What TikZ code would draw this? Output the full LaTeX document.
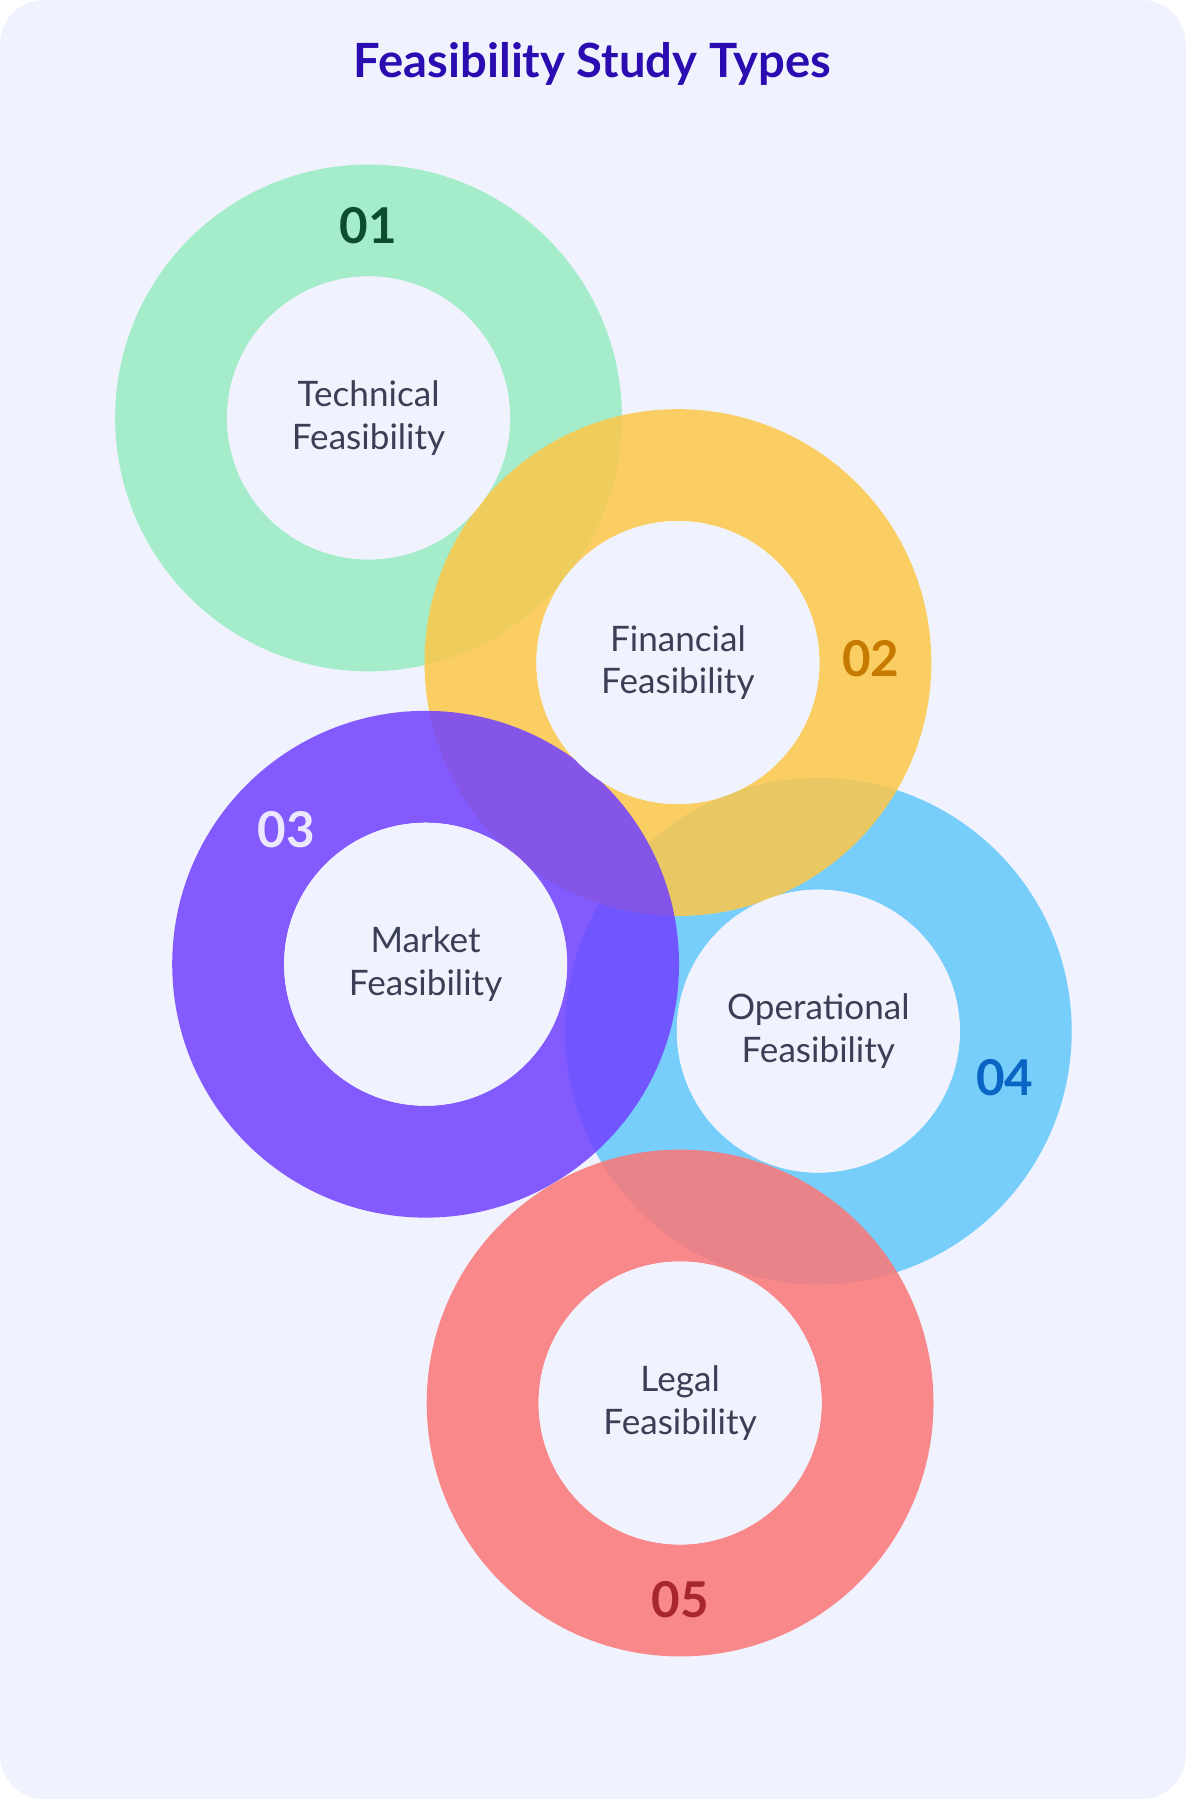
\documentclass[tikz,border=0pt]{standalone}
\usepackage{fontspec}
\setmainfont{Lato}
\definecolor{bgcol}{HTML}{F0F3FD}
\definecolor{titlecol}{HTML}{2A0CB0}
\definecolor{labelcol}{HTML}{3A3F55}
\definecolor{ringA}{HTML}{98EBC3}
\definecolor{ringB}{HTML}{FDC84A}
\definecolor{ringC}{HTML}{7040FF}
\definecolor{ringD}{HTML}{62C8FB}
\definecolor{ringE}{HTML}{FB7676}
\definecolor{numA}{HTML}{0B4D2E}
\definecolor{numB}{HTML}{C77A00}
\definecolor{numC}{HTML}{ECE8FF}
\definecolor{numD}{HTML}{0A64C4}
\definecolor{numE}{HTML}{A8262E}
\tikzset{every picture/.style={line width=0.75pt}}
\tikzset{
  ring/.style={fill=#1,fill opacity=0.85,draw=none,even odd rule},
  hole/.style={circle,fill=bgcol,draw=none,minimum size=258pt,inner sep=0pt,align=center,text=labelcol,font=\fontsize{32}{39}\selectfont},
  num/.style={text=#1,font=\fontsize{45}{50}\selectfont\bfseries}
}

\begin{document}
\begin{tikzpicture}[x=1pt,y=1pt,yscale=-1]
%background
\fill[bgcol,rounded corners=40pt] (0,0) rectangle (1081,1640);
\useasboundingbox (0,0) rectangle (1081,1568);

% Text Node
\node[text=titlecol,font=\fontsize{43}{50}\selectfont\bfseries] (title) at (540,58) {Feasibility Study Types};

%Rings
\fill[ring=ringD] (746,940) circle (231) (746,940) circle (129);
\fill[ring=ringA] (336,381) circle (231) (336,381) circle (129);
\fill[ring=ringB] (618,604) circle (231) (618,604) circle (129);
\fill[ring=ringC] (388,879) circle (231) (388,879) circle (129);
\fill[ring=ringE] (620,1279) circle (231) (620,1279) circle (129);

%Holes
\node[hole] (technical) at (336,381) {Technical\\Feasibility};
\node[hole] (financial) at (618,604) {Financial\\Feasibility};
\node[hole] (market) at (388,879) {Market\\Feasibility};
\node[hole] (operational) at (746,940) {Operational\\Feasibility};
\node[hole] (legal) at (620,1279) {Legal\\Feasibility};

%Numbers
\node[num=numA] (n1) at (336,206) {01};
\node[num=numB] (n2) at (794,600) {02};
\node[num=numC] (n3) at (261,756) {03};
\node[num=numD] (n4) at (916,982) {04};
\node[num=numE] (n5) at (620,1458) {05};
\end{tikzpicture}
\end{document}
